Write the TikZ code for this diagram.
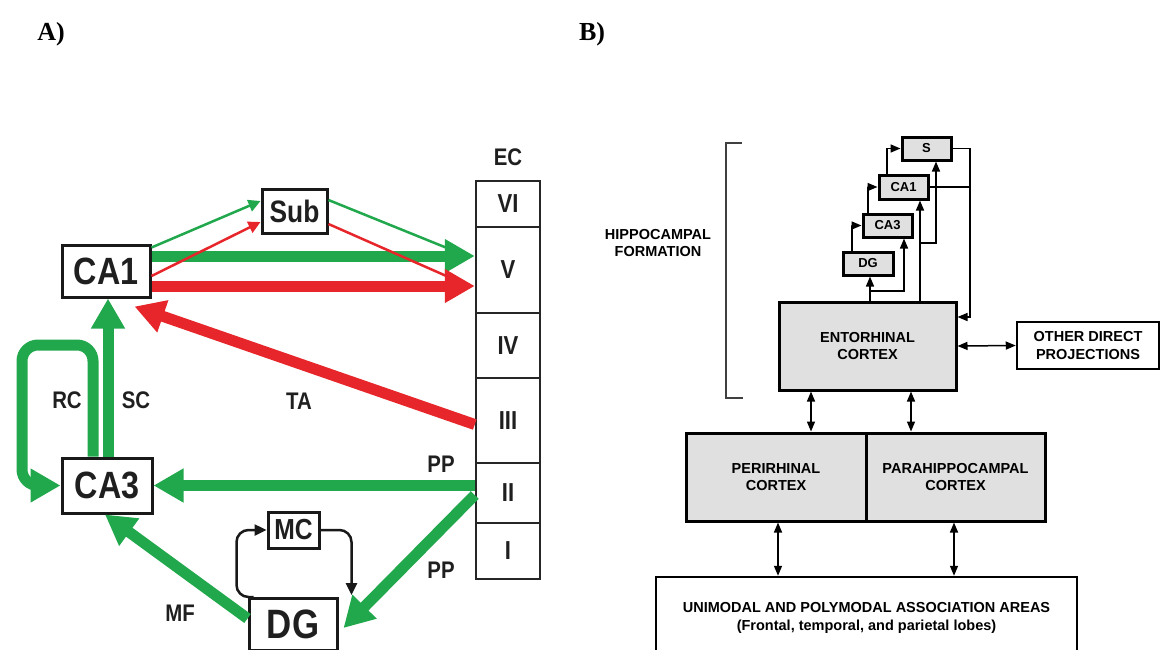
\documentclass[tikz,border=0pt]{standalone}
\usepackage{fontspec}
\setmainfont{Liberation Sans}
\newfontfamily\condfont[FakeStretch=0.85]{Liberation Sans}
\newfontfamily\serifb{Liberation Serif}
\usetikzlibrary{arrows.meta}
\definecolor{agreen}{RGB}{34,168,76}
\definecolor{ared}{RGB}{230,38,42}
\tikzset{
  abox/.style={draw=black!90, line width=3pt, fill=white, inner sep=0pt, text=black!88},
  ecrow/.style={draw=black!85, line width=2.5pt, minimum width=64pt, inner sep=0pt, text=black!88,
    font=\condfont\bfseries\fontsize{26}{26}\selectfont},
  alabel/.style={font=\condfont\bfseries\fontsize{24}{24}\selectfont, text=black!88},
  thickg/.style={line width=11pt, draw=agreen, -{Triangle[length=30pt,width=32pt]}},
  thickr/.style={line width=11pt, draw=ared, -{Triangle[length=30pt,width=32pt]}},
  thing/.style={line width=2.5pt, draw=agreen, -{Triangle[length=12pt,width=12pt]}},
  thinr/.style={line width=2.5pt, draw=ared, -{Triangle[length=12pt,width=12pt]}},
  mcloop/.style={line width=2.5pt, draw=black!90, rounded corners=12pt, -{Triangle[length=12pt,width=11pt]}},
  bbox/.style={draw, line width=3pt, fill=black!12, inner sep=0pt, align=center,
    font=\bfseries\fontsize{14.5}{17.5}\selectfont},
  sbox/.style={draw, line width=3pt, fill=black!12, inner sep=0pt,
    font=\bfseries\fontsize{13}{13}\selectfont},
  wbox/.style={draw, line width=2.5pt, fill=white, inner sep=0pt, align=center,
    font=\bfseries\fontsize{14.5}{17.5}\selectfont},
  barr/.style={line width=1.5pt, -{Triangle[length=10pt,width=8pt]}},
  bdarr/.style={line width=1.5pt, {Triangle[length=10pt,width=8pt]}-{Triangle[length=10pt,width=8pt]}},
  panel/.style={font=\serifb\bfseries\fontsize{26}{26}\selectfont},
}
\begin{document}
\begin{tikzpicture}[x=1pt,y=-1pt]
\useasboundingbox (0,0) rectangle (1161,649);

% panel labels
\node[panel] (la) at (51,34) {A)};
\node[panel] (lb) at (592,34) {B)};

% ---------------- Panel A ----------------
\node[abox, minimum width=88pt, minimum height=52pt, font=\condfont\bfseries\fontsize{38}{38}\selectfont] (aca1) at (106,271) {CA1};
\node[abox, minimum width=90pt, minimum height=55pt, font=\condfont\bfseries\fontsize{38}{38}\selectfont] (aca3) at (107,485.5) {CA3};
\node[abox, minimum width=65pt, minimum height=44pt, font=\condfont\bfseries\fontsize{31}{31}\selectfont] (asub) at (294.5,211) {Sub};
\node[abox, minimum width=51pt, minimum height=36pt, font=\condfont\bfseries\fontsize{29}{29}\selectfont] (amc) at (293.5,530) {MC};
\node[abox, minimum width=88pt, minimum height=52pt, font=\condfont\bfseries\fontsize{41}{41}\selectfont] (adg) at (293,624.5) {\raisebox{-3pt}{DG}};

% EC column
\node[alabel] (aec) at (508,157) {EC};
\node[ecrow, minimum height=46pt] (aVI) at (508,204) {VI};
\node[ecrow, minimum height=86pt] (aV) at (508,270) {V};
\node[ecrow, minimum height=65pt] (aIV) at (508,345.5) {IV};
\node[ecrow, minimum height=85pt] (aIII) at (508,420.5) {III};
\node[ecrow, minimum height=60pt] (aII) at (508,493) {II};
\node[ecrow, minimum height=56pt] (aI) at (508,551) {I};

% thick projections
\draw[thickg] ([yshift=15pt]aca1.east) -- ([yshift=15pt]aca1.east -| aV.west);
\draw[thickr] ([yshift=-15pt]aca1.east) -- ([yshift=-15pt]aca1.east -| aV.west);
\draw[thickr] ([yshift=-4pt]aIII.west) -- ([xshift=-17pt,yshift=-8pt]aca1.south east);
\draw[thickg] ([xshift=1pt]aca3.north) -- ([xshift=1pt]aca3.north |- aca1.south);
\draw[thickg, rounded corners=16pt] ([xshift=-14pt]aca3.north) |- (22,345) |- (aca3.west);
\draw[thickg] (aca3.east -| aII.west) -- (aca3.east);
\draw[thickg] ([yshift=-2pt]aII.west) -- ([xshift=5pt,yshift=-3.5pt]adg.east);
\draw[thickg] ([yshift=6pt]adg.west) -- ([xshift=-2pt]aca3.south);

% thin projections via subiculum
\draw[thing] ([yshift=-4pt]aca1.north east) -- ([yshift=10pt]asub.west);
\draw[thinr] ([yshift=-5pt]aca1.east) -- ([yshift=-11pt]asub.west);
\draw[line width=2.5pt, agreen] ([yshift=11pt]asub.east) -- ([xshift=-8pt,yshift=14pt]aV.west);
\draw[line width=2.5pt, ared] ([yshift=-13pt]asub.east) -- ([xshift=-8pt,yshift=-15pt]aV.west);

% MC loop
\draw[mcloop] ([xshift=6pt]adg.north west) -| ([xshift=-30pt]amc.west) -- (amc.west);
\draw[mcloop] (amc.east) -| ([xshift=13pt,yshift=2pt]adg.north east);

% labels
\node[alabel] (lrc) at (67,400) {RC};
\node[alabel] (lsc) at (136,400) {SC};
\node[alabel] (lta) at (299,401) {TA};
\node[alabel] (lpp1) at (441,464) {PP};
\node[alabel] (lpp2) at (441,570) {PP};
\node[alabel] (lmf) at (180,613) {MF};

% ---------------- Panel B ----------------
\draw[line width=1.5pt, black!75] (742,143) -- (726,143) -- (726,398) -- (743,398);
\node[align=center, font=\bfseries\fontsize{14.5}{17}\selectfont] (bhf) at (658,243) {HIPPOCAMPAL\\FORMATION};

\node[sbox, minimum width=49pt, minimum height=23pt] (bs) at (926.5,148.5) {S};
\node[sbox, minimum width=49pt, minimum height=24pt] (bca1) at (903.5,187) {CA1};
\node[sbox, minimum width=49pt, minimum height=23pt] (bca3) at (887.5,225.5) {CA3};
\node[sbox, minimum width=50pt, minimum height=23pt] (bdg) at (868,263.5) {DG};
\node[bbox, minimum width=177pt, minimum height=88pt] (bec) at (867.5,346) {ENTORHINAL\\CORTEX};
\node[wbox, minimum width=142pt, minimum height=47pt] (both) at (1088,345.5) {OTHER DIRECT\\PROJECTIONS};
\node[bbox, minimum width=180pt, minimum height=88pt] (bperi) at (776,477) {PERIRHINAL\\CORTEX};
\node[bbox, minimum width=179pt, minimum height=88pt] (bpara) at (955.5,477) {PARAHIPPOCAMPAL\\CORTEX};
\node[wbox, minimum width=421pt, minimum height=82pt] (bbot) at (866.5,618) {UNIMODAL AND POLYMODAL ASSOCIATION AREAS\\(Frontal, temporal, and parietal lobes)};

% hippocampal chain
\draw[barr] ([xshift=-16pt]bdg.north) |- (bca3.west);
\draw[barr] ([xshift=-19.5pt]bca3.north) |- (bca1.west);
\draw[barr] ([xshift=-16.5pt]bca1.north) |- (bs.west);
\coordinate (br1) at (870,291);
\coordinate (br2) at (920,243);
\draw[barr] ([xshift=2pt]bdg.south |- bec.north) -- ([xshift=2pt]bdg.south);
\draw[barr] (br1) -| ([xshift=16.5pt]bca3.south);
\draw[barr] ([xshift=16.5pt]bca1.south |- bec.north) -- ([xshift=16.5pt]bca1.south);
\draw[barr] (br2) -| ([xshift=9.5pt]bs.south);
\draw[barr] (bs.east) -| (970,317) -- ([yshift=29pt]bec.east);
\draw[line width=1.5pt] (bca1.east) -- (970,187);

% cortical links
\draw[bdarr] (bec.east) -- (both.west);
\draw[bdarr] ([xshift=-56.5pt]bec.south) -- ([xshift=-56.5pt]bec.south |- bperi.north);
\draw[bdarr] ([xshift=43.5pt]bec.south) -- ([xshift=43.5pt]bec.south |- bpara.north);
\draw[bdarr] ([xshift=2pt]bperi.south) -- ([xshift=2pt]bperi.south |- bbot.north);
\draw[bdarr] ([xshift=-1.5pt]bpara.south) -- ([xshift=-1.5pt]bpara.south |- bbot.north);
\end{tikzpicture}
\end{document}
